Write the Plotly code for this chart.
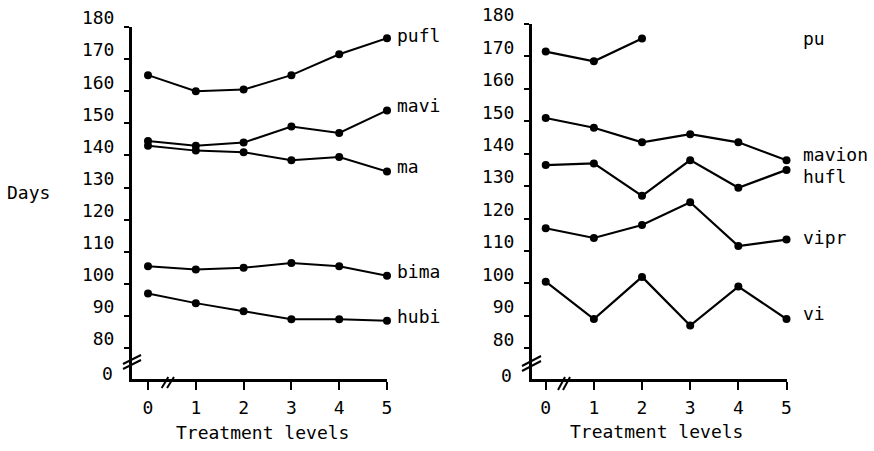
import plotly.graph_objects as go

# ---------------- data ----------------
levels = [0, 1, 2, 3, 4, 5]

left_names = ["pufl", "mavi", "ma", "bima", "hubi"]
pufl = [165, 160, 160.5, 165, 171.5, 176.5]
mavi = [144.5, 143, 144, 149, 147, 154]
ma = [143, 141.5, 141, 138.5, 139.5, 135]
bima = [105.5, 104.5, 105, 106.5, 105.5, 102.5]
hubi = [97, 94, 91.5, 89, 89, 88.5]
left_series = [pufl, mavi, ma, bima, hubi]

right_names = ["pu", "mavion", "hufl", "vipr", "vi"]
pu = [171.5, 168.5, 175.5, None, None, None]
mavion = [151, 148, 143.5, 146, 143.5, 138]
hufl = [136.5, 137, 127, 138, 129.5, 135]
vipr = [117, 114, 118, 125, 111.5, 113.5]
vi = [100.5, 89, 102, 87, 99, 89]
right_series = [pu, mavion, hufl, vipr, vi]

y_ticks = [80, 90, 100, 110, 120, 130, 140, 150, 160, 170, 180]
x_ticks = [0, 1, 2, 3, 4, 5]

# ---------------- layout constants ----------------
W, H = 874, 451
FONT = "DejaVu Sans Mono"
FS = 18

def px(x):
    return x / W

def py(y):
    return 1 - y / H

# vertical positions (data units) of the series-name labels
left_label_y = [177.5, 155.7, 136.4, 103.7, 89.7]
right_label_y = [175.4, 139.8, 133.0, 114.1, 90.6]

fig = go.Figure()

for s, n in zip(left_series, left_names):
    fig.add_trace(go.Scatter(x=levels, y=s, mode="lines+markers", name=n,
                             line=dict(color="black", width=2),
                             marker=dict(color="black", size=8),
                             cliponaxis=False, showlegend=False,
                             xaxis="x", yaxis="y"))
for s, n in zip(right_series, right_names):
    fig.add_trace(go.Scatter(x=levels, y=s, mode="lines+markers", name=n,
                             line=dict(color="black", width=2.2),
                             marker=dict(color="black", size=8),
                             cliponaxis=False, showlegend=False,
                             xaxis="x2", yaxis="y2"))

tf = dict(family=FONT, size=FS, color="black")
common_x = dict(showgrid=False, zeroline=False, showline=True, linecolor="black",
                linewidth=2.5, ticks="outside", ticklen=8, tickwidth=2,
                tickcolor="black", tickvals=x_ticks, tickfont=tf,
                ticklabelstandoff=3, automargin=False)
common_y = dict(showgrid=False, zeroline=False, showline=True, linecolor="black",
                linewidth=3, ticks="outside", ticklen=5, tickwidth=2,
                tickcolor="black", tickvals=y_ticks, tickfont=tf,
                ticklabelshift=-9, ticklabelstandoff=6, automargin=False)

fig.update_layout(
    width=W, height=H,
    margin=dict(l=0, r=0, t=0, b=0, pad=0),
    paper_bgcolor="white", plot_bgcolor="white",
    xaxis=dict(common_x, domain=[px(132), px(387)], range=[-0.335, 5.0], anchor="y"),
    yaxis=dict(common_y, domain=[py(379), py(27)], range=[70.37, 180], anchor="x"),
    xaxis2=dict(common_x, domain=[px(532), px(786.5)], range=[-0.285, 5.0], anchor="y2"),
    yaxis2=dict(common_y, domain=[py(379), py(24)], range=[70.5, 180], anchor="x2"),
)

ann = []
for n, yv in zip(left_names, left_label_y):
    ann.append(dict(x=5, y=yv, xref="x", yref="y", text=n, showarrow=False,
                    xanchor="left", yanchor="middle", xshift=8, font=tf))
for n, yv in zip(right_names, right_label_y):
    ann.append(dict(x=5, y=yv, xref="x2", yref="y2", text=n, showarrow=False,
                    xanchor="left", yanchor="middle", xshift=14, font=tf))
ann.append(dict(x=px(28), y=py(192), xref="paper", yref="paper", text="Days",
                showarrow=False, xanchor="center", yanchor="middle", font=tf))
ann.append(dict(x=px(262), y=py(432), xref="paper", yref="paper", text="Treatment levels",
                showarrow=False, xanchor="center", yanchor="middle", font=tf))
ann.append(dict(x=px(656), y=py(431), xref="paper", yref="paper", text="Treatment levels",
                showarrow=False, xanchor="center", yanchor="middle", font=tf))
ann.append(dict(x=px(115), y=py(373), xref="paper", yref="paper", text="0",
                showarrow=False, xanchor="right", yanchor="middle", font=tf))
ann.append(dict(x=px(514), y=py(375), xref="paper", yref="paper", text="0",
                showarrow=False, xanchor="right", yanchor="middle", font=tf))
fig.update_layout(annotations=ann)

# axis break marks
breaks = [
    ((123, 364), (141, 355)), ((123, 369), (141, 360)),
    ((522, 366), (541, 356)), ((522, 371), (541, 361)),
    ((161.7, 388), (168.3, 377)), ((167, 388), (174, 377)),
    ((558, 390), (565, 377)), ((563, 390), (570, 377)),
]
shapes = []
for (x0, y0), (x1, y1) in breaks:
    shapes.append(dict(type="line", xref="paper", yref="paper",
                       x0=px(x0), y0=py(y0), x1=px(x1), y1=py(y1),
                       line=dict(color="black", width=2)))
fig.update_layout(shapes=shapes)

fig.write_html("out.html", config={"displayModeBar": False},
               post_script="document.body.style.margin='0';document.body.style.overflow='hidden';")
